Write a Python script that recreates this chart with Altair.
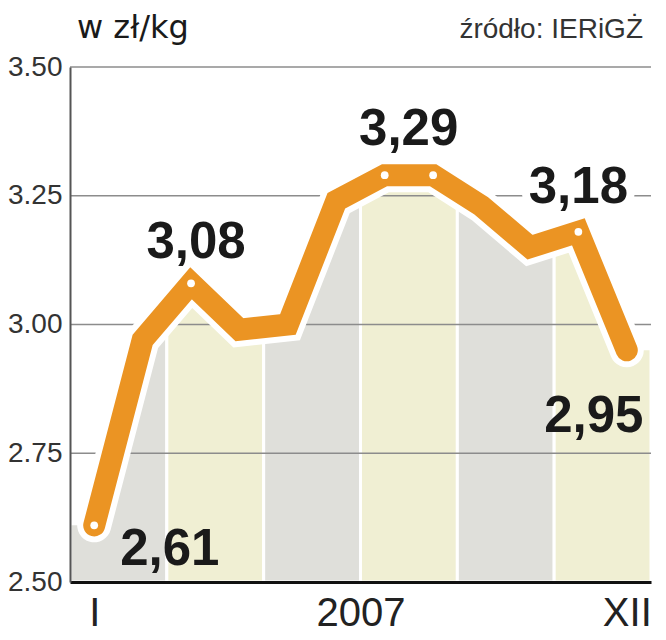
import altair as alt
import pandas as pd

# ---- data -----------------------------------------------------------
months = list(range(1, 13))
prices = [2.61, 2.97, 3.08, 2.99, 3.00, 3.24, 3.29, 3.29, 3.23, 3.15, 3.18, 2.95]
dot_months = [1, 3, 7, 8, 11]
label_months = [1, 3, 7, 11, 12]
band_first = [1, 3, 5, 7, 9, 11]
band_last = [2, 4, 6, 8, 10, 12]
band_shade = ["szary", "żółty", "szary", "żółty", "szary", "żółty"]
y_ticks = [2.50, 2.75, 3.00, 3.25, 3.50]
grid_values = [2.75, 3.00, 3.25, 3.50]
x_ticks = [1, 6.5, 12]
x_tick_labels = ["I", "2007", "XII"]
title_text = "w zł/kg"
source_text = "źródło: IERiGŻ"

# ---- derived tables ---------------------------------------------------
y_lo, y_hi = y_ticks[0], y_ticks[-1]
x_lo, x_hi = months[0] - 0.5, months[-1] + 0.5

line_df = pd.DataFrame({"month": months, "price": prices})
mask_df = pd.DataFrame({
    "month": [x_lo] + months + [x_hi],
    "price": [prices[0]] + prices + [prices[-1]],
    "top": y_hi,
})
band_df = pd.DataFrame({
    "month": [b - 0.5 for b in band_first],
    "x1": [b + 0.5 for b in band_last],
    "price": y_lo, "y1": y_hi,
    "shade": band_shade,
})
dot_df = line_df[line_df["month"].isin(dot_months)]
grid_df = pd.DataFrame({"price": grid_values})


def fmt(v):
    return f"{v:.2f}".replace(".", ",")


def label_df(m):
    return pd.DataFrame({"month": [m], "price": [prices[m - 1]], "txt": [fmt(prices[m - 1])]})


xs = alt.Scale(domain=[x_lo, x_hi], nice=False, zero=False)
ys = alt.Scale(domain=[y_lo, y_hi], nice=False, zero=False)

expr = " : ".join(
    f"datum.value == {v} ? '{t}'" for v, t in zip(x_ticks[:-1], x_tick_labels[:-1])
) + f" : '{x_tick_labels[-1]}'"

x_axis = alt.Axis(values=x_ticks, labelExpr=expr, title=None, ticks=False, grid=False,
                  domainColor="#111111", domainWidth=3, labelFontSize=40,
                  labelFont="Liberation Sans", labelColor="#222222", labelPadding=11,
                  zindex=1, labelFlush=False)
y_axis = alt.Axis(values=y_ticks, format=".2f", title=None, ticks=False, grid=False,
                  domainColor="#555555", domainWidth=2, labelFontSize=28,
                  labelFont="Liberation Sans", labelColor="#333333", labelPadding=8,
                  zindex=1)


def X():
    return alt.X("month:Q", scale=xs, axis=x_axis)


def Y():
    return alt.Y("price:Q", scale=ys, axis=y_axis)


bands = alt.Chart(band_df).mark_rect(stroke="white", strokeWidth=3).encode(
    x=X(), x2="x1", y=Y(), y2="y1",
    color=alt.Color("shade:N", scale=alt.Scale(domain=["szary", "żółty"],
                                               range=["#DFDFDA", "#F0EFD3"]), legend=None),
)

mask = alt.Chart(mask_df).mark_area(color="white", opacity=1).encode(
    x=X(), y=Y(), y2="top",
)

grid = alt.Chart(grid_df).mark_rule(color="#8c8c8c", strokeWidth=1.5).encode(y=Y())

outline = alt.Chart(line_df).mark_line(color="white", strokeWidth=34, strokeCap="round",
                                       strokeJoin="miter").encode(x=X(), y=Y())
orange = alt.Chart(line_df).mark_line(color="#EB9423", strokeWidth=22, strokeCap="round",
                                      strokeJoin="miter").encode(x=X(), y=Y())
dots = alt.Chart(dot_df).mark_circle(color="white", opacity=1, size=60).encode(x=X(), y=Y())

offsets = {1: (26, 40, "left"), 3: (5, -25, "center"), 7: (24, -30, "center"),
           11: (0, -29, "center"), 12: (-33, 82, "center")}

labels = []
for m in label_months:
    dx, dy, al = offsets[m]
    base = alt.Chart(label_df(m)).encode(x=X(), y=Y(), text="txt:N")
    if m == 11:
        labels.append(base.mark_text(dx=dx, dy=dy, align=al, baseline="alphabetic",
                                     font="Liberation Sans", fontSize=51, fontWeight="bold",
                                     stroke="white", strokeWidth=16, color="white"))
    labels.append(base.mark_text(dx=dx, dy=dy, align=al, baseline="alphabetic",
                                 font="Liberation Sans", fontSize=51, fontWeight="bold",
                                 color="#1a1a1a"))

title = alt.Chart(pd.DataFrame({"t": [title_text]})).mark_text(
    align="left", baseline="alphabetic", font="DejaVu Sans", fontSize=32, color="#1a1a1a"
).encode(x=alt.value(7), y=alt.value(-29), text="t:N")

source = alt.Chart(pd.DataFrame({"t": [source_text]})).mark_text(
    align="right", baseline="alphabetic", font="Liberation Sans", fontSize=28, color="#333333"
).encode(x=alt.value(573), y=alt.value(-29), text="t:N")

chart = alt.layer(bands, mask, grid, outline, orange, dots, *labels, title, source).properties(
    width=581, height=515,
    autosize=alt.AutoSizeParams(type="none"),
    padding={"left": 62, "top": 59, "right": 7, "bottom": 50},
).configure_view(stroke=None)

chart.save("out.html", embed_options={"renderer": "svg", "actions": False})
